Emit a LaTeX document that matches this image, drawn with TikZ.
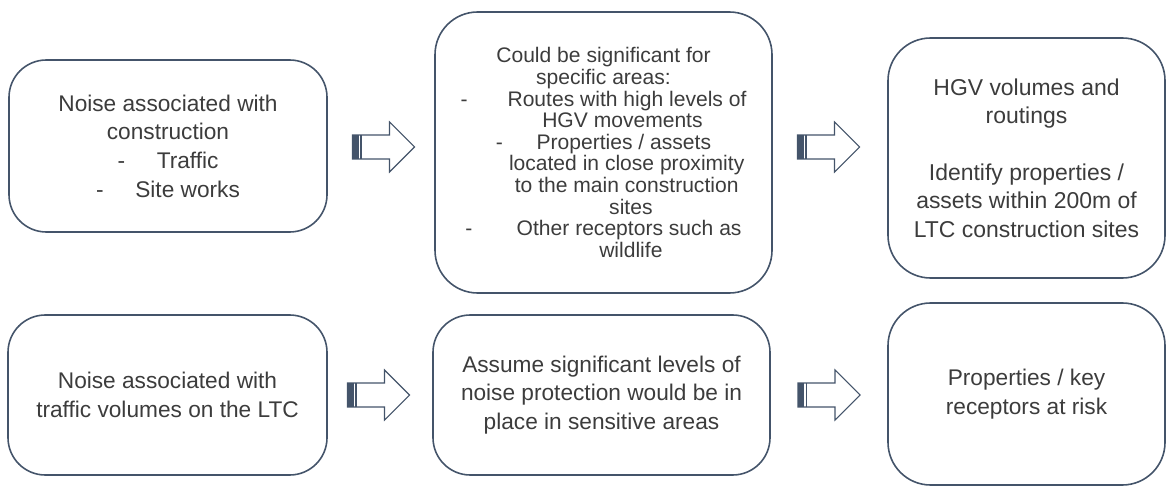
\documentclass[tikz,border=0pt]{standalone}
\usepackage{fontspec}
\setmainfont{Liberation Sans}
\usepackage{xcolor}
\usepackage{tikz}
\usetikzlibrary{positioning,calc}

\definecolor{edge}{HTML}{44546A}
\definecolor{ink}{HTML}{3C3C3C}

\tikzset{
  stage/.style={draw=edge, line width=1.2pt, rounded corners=28pt, text=ink,
    align=center, inner sep=0pt, font=\fontsize{17}{21.5}\selectfont},
  blockarr/.pic={
    \draw[edge, line width=0.8pt, fill=white]
      (-31,-12) -- (6,-12) -- (6,-25) -- (31,0) -- (6,25) -- (6,12) -- (-31,12) -- cycle;
    \fill[edge] (-31,-12) rectangle (-25,12);
    \draw[edge, line width=0.9pt] (-22.5,-12) -- (-22.5,12);
  }
}

\begin{document}
\begin{tikzpicture}[x=0.75pt, y=0.75pt]
\useasboundingbox (0,0) rectangle (1167,486);

% top row
\node[stage, minimum width=238.5pt, minimum height=129pt] (constr) at (168,340)
  {Noise associated with\\ construction\\ -\hspace{1.4em}Traffic\\ -\hspace{1.4em}Site works};
\node[stage, minimum width=252.75pt, minimum height=210.75pt, rounded corners=32pt,
  font=\fontsize{15.8}{16.2}\selectfont] (signif) at (603.5,333.5)
  {Could be significant for\\
   specific areas:\\
   -\hspace{1.9em}Routes with high levels of\\
   \hspace*{1.8em}HGV movements\\
   -\hspace{1.6em}Properties / assets\\
   \hspace*{2.2em}located in close proximity\\
   \hspace*{2.2em}to the main construction\\
   \hspace*{2.6em}sites\\
   -\hspace{2.1em}Other receptors such as\\
   \hspace*{2.6em}wildlife};
\node[stage, minimum width=207.75pt, minimum height=180pt, rounded corners=32pt,
  font=\fontsize{17.2}{21.3}\selectfont] (hgv) at (1026.5,328)
  {HGV volumes and\\ routings\\[21.3pt] Identify properties /\\ assets within 200m of\\ LTC construction sites};

% bottom row
\node[stage, minimum width=239.25pt, minimum height=120pt] (traffic) at (167.5,91)
  {Noise associated with\\ traffic volumes on the LTC};
\node[stage, minimum width=252.75pt, minimum height=120pt] (protect) at (601.5,91)
  {Assume significant levels of\\ noise protection would be in\\ place in sensitive areas};
\node[stage, minimum width=207.75pt, minimum height=136.5pt, rounded corners=32pt] (risk) at (1026.5,92)
  {Properties / key\\ receptors at risk};

% block arrows between the stages
\coordinate (a1) at (383.5,339);
\coordinate (a2) at (828.5,339);
\coordinate (a3) at (378.5,91);
\coordinate (a4) at (829,91);
\foreach \c in {a1,a2,a3,a4}
  \path (\c) pic {blockarr};
\end{tikzpicture}
\end{document}
